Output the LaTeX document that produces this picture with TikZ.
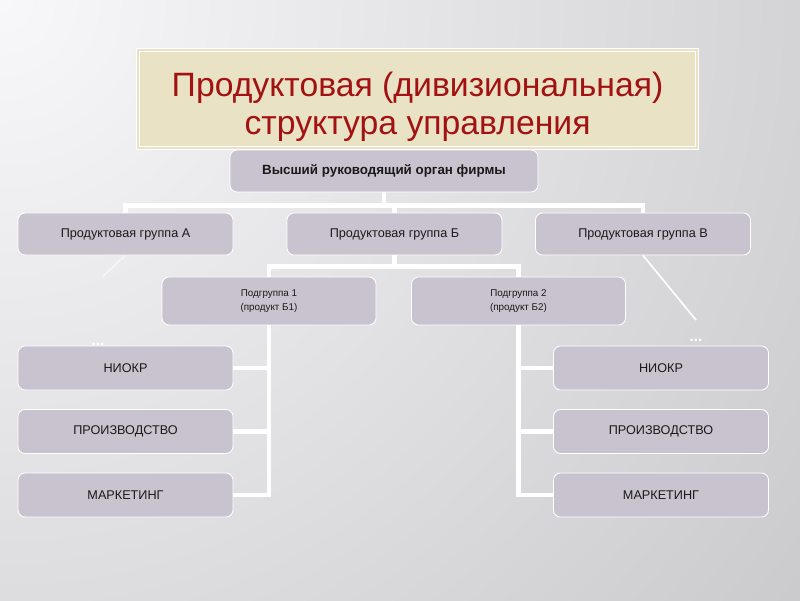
\documentclass[tikz,border=0pt]{standalone}
\usepackage{fontspec}
\setmainfont{Liberation Sans}
\usetikzlibrary{positioning,calc}
\definecolor{boxfill}{HTML}{C9C3D0}
\definecolor{titlefill}{HTML}{EAE2C5}
\definecolor{titlered}{HTML}{A21212}
\definecolor{bglight}{HTML}{F8F8FA}
\definecolor{bgdark}{HTML}{BEBEC0}

\begin{document}
\begin{tikzpicture}[
  box/.style={rectangle,draw=white,line width=0.6pt,fill=boxfill,rounded corners=5pt,
    minimum width=5.375cm,minimum height=1.05cm,text=black!90,align=center,
    font=\fontsize{9}{11}\selectfont},
  subbox/.style={box,minimum width=5.35cm,minimum height=1.2cm,font=\fontsize{7}{9.5}\selectfont},
  unitbox/.style={box,minimum height=1.1cm},
  conn/.style={draw=white,line width=3.5pt},
  dots/.style={text=white,font=\bfseries\fontsize{11}{11}\selectfont}
]
% Background
\useasboundingbox (0,0) rectangle (20,15);
\fill[bgdark] (0,0) rectangle (20,15);
\begin{scope}
  \clip (0,0) rectangle (20,15);
  \shade[inner color=bglight,outer color=bgdark] (0,15) circle (32);
\end{scope}

% Title
\draw[white,double=titlefill,double distance=1.5pt,line width=0.8pt,fill=titlefill]
  (3.45,11.3) rectangle (17.43,13.75);
\node[text=titlered,align=center,font=\fontsize{24}{27}\selectfont] (title) at (10.44,12.33)
  {Продуктовая (дивизиональная)\\структура управления};

% Hidden branches
\node[dots] (dotsA) at (2.45,6.4) {...};
\node[dots] (dotsV) at (17.4,6.5) {...};

% Levels
\node[box,minimum width=7.7cm,font=\bfseries\fontsize{9.5}{11}\selectfont] (top) at (9.6,10.725) {Высший руководящий орган фирмы};

\node[box] (grpA) at (3.1375,9.15) {Продуктовая группа А};
\node[box] (grpB) at (9.8625,9.15) {Продуктовая группа Б};
\node[box] (grpV) at (16.075,9.15) {Продуктовая группа В};

\node[subbox] (sub1) at (6.725,7.475) {Подгруппа 1\\(продукт Б1)};
\node[subbox] (sub2) at (12.9625,7.475) {Подгруппа 2\\(продукт Б2)};

\node[unitbox] (rdL) at (3.1375,5.8) {НИОКР};
\node[unitbox] (prodL) at (3.1375,4.2125) {ПРОИЗВОДСТВО};
\node[unitbox] (mktL) at (3.1375,2.625) {МАРКЕТИНГ};
\node[unitbox] (rdR) at (16.525,5.8) {НИОКР};
\node[unitbox] (prodR) at (16.525,4.2125) {ПРОИЗВОДСТВО};
\node[unitbox] (mktR) at (16.525,2.625) {МАРКЕТИНГ};

% Connectors
\coordinate (busT) at ($(top.south)+(0,-0.32)$);
\draw[conn] (top.south) -- (busT);
\draw[conn] (grpA.north) |- (busT) -| (grpV.north);
\draw[conn] (busT -| grpB.north) -- (grpB.north);

\coordinate (busB) at ($(grpB.south)+(0,-0.27)$);
\draw[conn] (grpB.south) -- (busB);
\draw[conn] (sub1.north) |- (busB) -| (sub2.north);

\foreach \n in {rdL,prodL,mktL}
  \draw[conn] (sub1.south) |- (\n.east);
\foreach \n in {rdR,prodR,mktR}
  \draw[conn] (sub2.south) |- (\n.west);

% Lines towards hidden branches
\coordinate (endA) at (2.575,8.1);
\coordinate (endV) at (17.4,7.0);
\draw[white,opacity=0.6,line width=1pt] (grpA.south) -- (endA);
\draw[white,line width=1.2pt] (grpV.south) -- (endV);
\end{tikzpicture}
\end{document}
